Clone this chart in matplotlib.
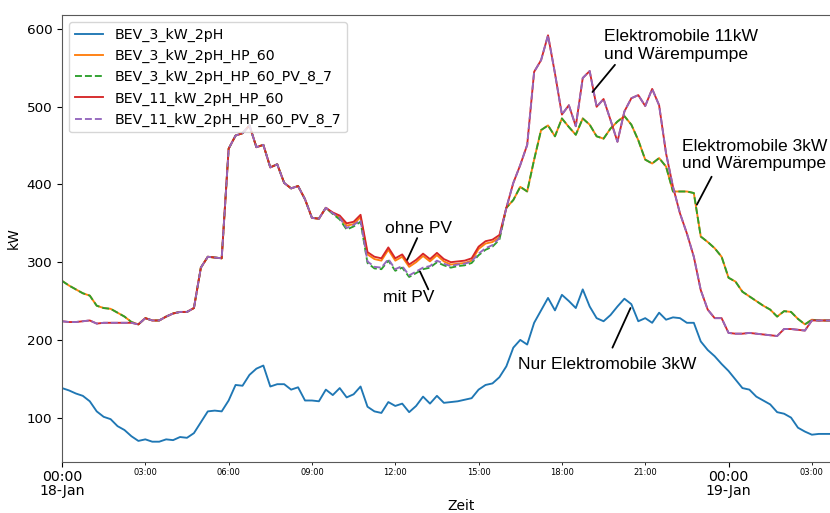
import matplotlib
matplotlib.use('Agg')
import matplotlib.pyplot as plt
import matplotlib.dates as mdates
import pandas as pd

# 15 min Werte, 18-Jan 00:00 bis 19-Jan 04:45
zeit = pd.date_range('2019-01-18 00:00', periods=116, freq='15min')

bev_3 = [138, 135, 131, 128, 121, 108, 101, 98, 89, 84,
         76, 70, 72, 69, 69, 72, 71, 75, 74, 80,
         94, 108, 109, 108, 122, 142, 141, 155, 163, 167,
         140, 143, 143, 136, 139, 122, 122, 121, 136, 129,
         138, 126, 130, 140, 114, 108, 106, 120, 115, 118,
         107, 115, 127, 118, 128, 119, 120, 121, 123, 125,
         136, 142, 144, 152, 166, 190, 200, 194, 222, 238,
         254, 238, 258, 250, 241, 265, 243, 228, 224, 232,
         243, 253, 246, 224, 228, 222, 235, 226, 229, 228,
         222, 222, 198, 187, 179, 169, 160, 149, 138, 136,
         127, 122, 117, 107, 105, 100, 87, 82, 78, 79,
         79, 79, 79, 79, 79, 79]

bev_3_hp = [276, 270, 265, 260, 257, 244, 241, 240, 235, 230,
            223, 220, 228, 225, 225, 230, 234, 236, 236, 241,
            293, 307, 306, 305, 446, 463, 466, 476, 448, 451,
            422, 426, 402, 395, 398, 381, 357, 356, 370, 363,
            357, 347, 349, 358, 310, 304, 302, 316, 302, 307,
            294, 300, 308, 301, 309, 301, 297, 298, 299, 302,
            317, 324, 326, 332, 370, 380, 397, 391, 432, 470,
            476, 462, 485, 474, 464, 485, 477, 462, 459, 472,
            481, 488, 477, 457, 432, 427, 434, 423, 391, 391,
            391, 389, 333, 326, 318, 307, 280, 275, 262, 256,
            250, 244, 239, 230, 237, 236, 227, 220, 226, 225,
            225, 225, 225, 225, 225, 225]

bev_3_hp_pv = [276, 270, 265, 260, 257, 244, 241, 240, 235, 230,
               223, 220, 228, 225, 225, 230, 234, 236, 236, 241,
               293, 307, 306, 305, 446, 463, 466, 476, 448, 451,
               422, 426, 402, 395, 398, 381, 357, 356, 370, 362,
               355, 342, 346, 352, 299, 292, 291, 302, 289, 293,
               281, 286, 291, 293, 300, 296, 293, 295, 296, 299,
               309, 316, 320, 329, 370, 380, 397, 391, 432, 470,
               476, 462, 485, 474, 464, 485, 477, 462, 459, 472,
               481, 488, 477, 457, 432, 427, 434, 423, 391, 391,
               391, 389, 333, 326, 318, 307, 280, 275, 262, 256,
               250, 244, 239, 230, 237, 236, 227, 220, 226, 225,
               225, 225, 225, 225, 225, 225]

bev_11_hp = [224, 223, 223, 224, 225, 221, 222, 222, 222, 222,
             222, 220, 228, 225, 225, 230, 234, 236, 236, 241,
             293, 307, 306, 305, 446, 463, 466, 476, 448, 451,
             422, 426, 402, 395, 398, 381, 357, 356, 370, 364,
             360, 350, 352, 361, 313, 307, 305, 319, 305, 310,
             297, 303, 311, 304, 312, 304, 300, 301, 302, 305,
             320, 327, 329, 335, 370, 402, 425, 451, 545, 560,
             592, 543, 490, 502, 475, 537, 546, 500, 510, 483,
             455, 494, 511, 515, 501, 523, 502, 440, 397, 363,
             337, 307, 264, 239, 228, 228, 209, 208, 208, 209,
             208, 207, 206, 205, 214, 214, 213, 212, 225, 225,
             225, 225, 225, 225, 225, 225]

bev_11_hp_pv = [224, 223, 223, 224, 225, 221, 222, 222, 222, 222,
                222, 220, 228, 225, 225, 230, 234, 236, 236, 241,
                293, 307, 306, 305, 446, 463, 466, 476, 448, 451,
                422, 426, 402, 395, 398, 381, 357, 356, 370, 363,
                357, 344, 348, 354, 301, 294, 293, 304, 291, 295,
                283, 288, 293, 295, 302, 298, 295, 297, 298, 301,
                311, 318, 322, 331, 370, 402, 425, 451, 545, 560,
                592, 543, 490, 502, 475, 537, 546, 500, 510, 483,
                455, 494, 511, 515, 501, 523, 502, 440, 397, 363,
                337, 307, 264, 239, 228, 228, 209, 208, 208, 209,
                208, 207, 206, 205, 214, 214, 213, 212, 225, 225,
                225, 225, 225, 225, 225, 225]


def t(h):
    # Stunden ab Start -> Zeitstempel
    return zeit[0] + pd.Timedelta(hours=h)


fig = plt.figure(figsize=(8.3, 5.13), dpi=100)
# Achse reicht rechts ueber das Bild hinaus (Original ist abgeschnitten)
ax = fig.add_axes([0.0747, 0.0994, 0.962, 0.8714])

lw = 1.35
ax.plot(zeit, bev_3, color='#1f77b4', lw=lw, label='BEV_3_kW_2pH')
ax.plot(zeit, bev_3_hp, color='#ff7f0e', lw=lw, label='BEV_3_kW_2pH_HP_60')
ax.plot(zeit, bev_3_hp_pv, color='#2ca02c', lw=lw, ls='--', label='BEV_3_kW_2pH_HP_60_PV_8_7')
ax.plot(zeit, bev_11_hp, color='#d62728', lw=lw, label='BEV_11_kW_2pH_HP_60')
ax.plot(zeit, bev_11_hp_pv, color='#9467bd', lw=lw, ls='--', label='BEV_11_kW_2pH_HP_60_PV_8_7')

ax.set_xlim(zeit[0], zeit[-1])
ax.xaxis.set_major_locator(mdates.DayLocator())
ax.xaxis.set_major_formatter(mdates.DateFormatter('%H:%M\n%d-%b'))
ax.xaxis.set_minor_locator(mdates.HourLocator(byhour=range(3, 24, 3)))
ax.xaxis.set_minor_formatter(mdates.DateFormatter('%H:%M'))
ax.tick_params(axis='x', which='major', labelsize=10.2, pad=2)
ax.tick_params(axis='x', which='minor', labelsize=6, pad=2.5)
ax.tick_params(axis='y', labelsize=9.7)
for lab in ax.get_xticklabels():
    lab.set_ha('center')
    lab.set_linespacing(1.0)

ax.set_xlabel('Zeit', fontsize=10, labelpad=1)
ax.set_ylabel('kW', fontsize=10)
ax.spines['right'].set_visible(False)
for s in ['left', 'bottom', 'top']:
    ax.spines[s].set_color('0.35')

ax.legend(loc='upper left', fontsize=10.2)

# Beschriftungen
txt = dict(fontfamily='Liberation Sans', fontsize=12.6, color='black')
line = dict(arrowstyle='-', color='black', lw=1.3, shrinkA=0, shrinkB=0)

ax.text(t(19.51), 579, 'Elektromobile 11kW\nund Wärempumpe', ha='left', va='center', **txt)
ax.annotate('', xy=(t(19.10), 519), xytext=(t(19.91), 554), arrowprops=line)

ax.text(t(22.31), 438, 'Elektromobile 3kW\nund Wärempumpe', ha='left', va='center', **txt)
ax.annotate('', xy=(t(22.86), 374), xytext=(t(23.39), 410), arrowprops=line)

ax.text(t(19.64), 168, 'Nur Elektromobile 3kW', ha='center', va='center', **txt)
ax.annotate('', xy=(t(20.47), 241), xytext=(t(19.82), 190), arrowprops=line)

ax.text(t(12.85), 344, 'ohne PV', ha='center', va='center', **txt)
ax.annotate('', xy=(t(12.43), 303), xytext=(t(12.79), 331), arrowprops=line)

ax.text(t(12.49), 254, 'mit PV', ha='center', va='center', **txt)
ax.annotate('', xy=(t(12.89), 288), xytext=(t(13.19), 265), arrowprops=line)

fig.savefig('out.png', dpi=100)
